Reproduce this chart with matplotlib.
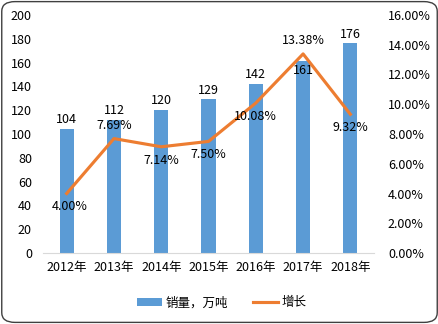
import matplotlib.pyplot as plt
import numpy as np
from matplotlib.patches import FancyBboxPatch, Patch
from matplotlib.lines import Line2D

plt.rcParams['font.family'] = ['Noto Sans CJK SC', 'DejaVu Sans']

years = ['2012年', '2013年', '2014年', '2015年', '2016年', '2017年', '2018年']
sales = [104, 112, 120, 129, 142, 161, 176]
growth = [4.00, 7.69, 7.14, 7.50, 10.08, 13.38, 9.32]
# label placement for growth: above (+) or below (-)
growth_pos = [-1, 1, -1, -1, -1, 1, -1]

bar_color = '#5B9BD5'
line_color = '#ED7D31'

fig = plt.figure(figsize=(4.39, 3.24), dpi=100)
ax = fig.add_axes([0.098, 0.219, 0.754, 0.735])
ax2 = ax.twinx()

x = np.arange(len(years))
ax.bar(x, sales, width=0.3, color=bar_color, zorder=2)
ax2.plot(x, growth, color=line_color, linewidth=2.25, zorder=3)

ax.set_xlim(-0.5, len(years) - 0.5)
ax.set_ylim(0, 200)
ax.set_yticks(np.arange(0, 201, 20))
ax2.set_ylim(0, 16)
ax2.set_yticks(np.arange(0, 16.1, 2))
ax2.set_yticklabels([f'{v:.2f}%' for v in np.arange(0, 16.1, 2)])

ax.set_xticks(x)
ax.set_xticklabels(years)

for a in (ax, ax2):
    for s in ['top', 'left', 'right', 'bottom']:
        a.spines[s].set_visible(False)
    a.tick_params(length=0, labelsize=9, colors='black')
ax.spines['bottom'].set_visible(True)
ax.spines['bottom'].set_color('#D9D9D9')
ax.tick_params(axis='y', pad=8)
ax.tick_params(axis='x', pad=6)
ax2.tick_params(axis='y', pad=10)

# bar value labels
for i, v in enumerate(sales):
    dy = -11 if v == 161 else 2
    ax.annotate(str(v), (x[i], v), xytext=(0, dy), textcoords='offset points',
                ha='center', va='bottom', fontsize=9, zorder=5)

# growth labels
for i, v in enumerate(growth):
    dy = 5 if growth_pos[i] > 0 else -5
    va = 'bottom' if growth_pos[i] > 0 else 'top'
    ax2.annotate(f'{v:.2f}%', (x[i], v), xytext=(2 if i == 0 else 0, dy),
                 textcoords='offset points', ha='center', va=va, fontsize=9, zorder=5)

handles = [Patch(facecolor=bar_color, label='销量，万吨'),
           Line2D([0], [0], color=line_color, linewidth=2.25, label='增长')]
fig.legend(handles=handles, loc='center', bbox_to_anchor=(0.505, 0.065), ncol=2,
           frameon=False, fontsize=9, handlelength=2.0, handleheight=0.6,
           columnspacing=2.0, handletextpad=0.3)

border = FancyBboxPatch((0.004, 0.005), 0.992, 0.99, boxstyle='round,pad=0,rounding_size=0.03',
                        transform=fig.transFigure, fill=False, edgecolor='#404040',
                        linewidth=1.0)
fig.patches.append(border)

fig.savefig('out.png', dpi=100)
